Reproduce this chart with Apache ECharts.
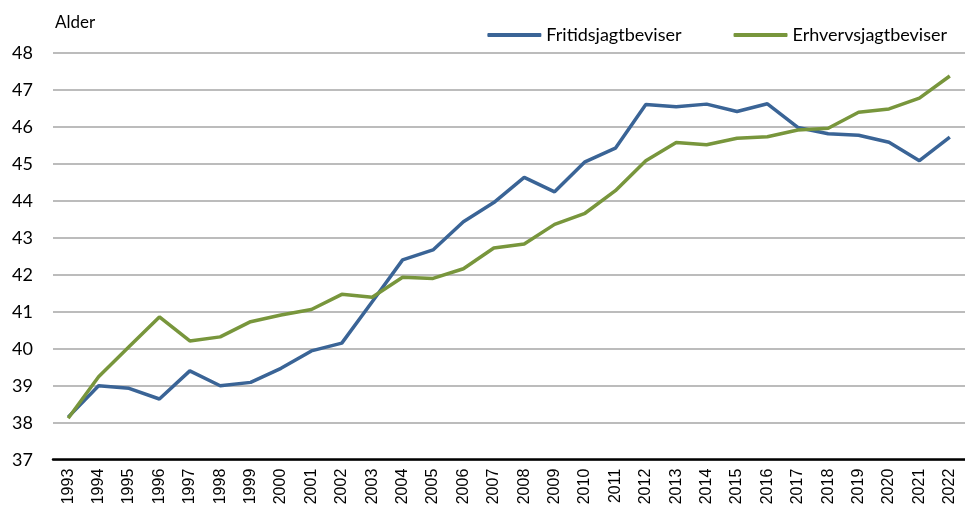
<!DOCTYPE html>
<html>
<head>
<meta charset="utf-8">
<script src="https://cdn.jsdelivr.net/npm/echarts@6/dist/echarts.min.js"></script>
<style>
  html, body { margin: 0; padding: 0; background: #fff; }
  #chart { width: 965px; height: 518px; }
</style>
</head>
<body>
<div id="chart"></div>
<script>
var years = ['1993','1994','1995','1996','1997','1998','1999','2000','2001','2002',
  '2003','2004','2005','2006','2007','2008','2009','2010','2011','2012',
  '2013','2014','2015','2016','2017','2018','2019','2020','2021','2022'];

var fritid = [38.15, 39.0, 38.93, 38.64, 39.4, 39.0, 39.09, 39.47, 39.94, 40.15,
  41.27, 42.4, 42.67, 43.43, 43.95, 44.63, 44.24, 45.05, 45.42, 46.6,
  46.54, 46.61, 46.41, 46.62, 45.98, 45.81, 45.77, 45.58, 45.08, 45.72];

var erhverv = [38.12, 39.24, 40.05, 40.86, 40.21, 40.32, 40.73, 40.91, 41.06, 41.47,
  41.39, 41.93, 41.9, 42.16, 42.72, 42.83, 43.36, 43.66, 44.27, 45.08,
  45.57, 45.51, 45.69, 45.73, 45.91, 45.96, 46.39, 46.48, 46.77, 47.37];

var seriesNames = ['Fritidsjagtbeviser', 'Erhvervsjagtbeviser'];

var chart = echarts.init(document.getElementById('chart'));

var option = {
  animation: false,
  backgroundColor: '#fff',
  grid: { left: 53, right: -5, top: 52.7, bottom: 58.3 },
  legend: {
    data: seriesNames,
    right: 13,
    top: 21,
    itemWidth: 54,
    itemHeight: 4,
    itemGap: 52,
    icon: 'roundRect',
    textStyle: { fontFamily: 'Lato', fontSize: 18, color: '#000' }
  },
  xAxis: {
    type: 'category',
    data: years,
    boundaryGap: true,
    axisLine: { lineStyle: { color: '#000', width: 2.5 } },
    axisTick: { show: false },
    axisLabel: {
      rotate: 90,
      margin: 9,
      interval: 0,
      fontFamily: 'Liberation Sans',
      fontSize: 16,
      color: '#000'
    }
  },
  yAxis: {
    type: 'value',
    min: 37,
    max: 48,
    interval: 1,
    name: 'Alder',
    nameLocation: 'end',
    nameGap: 22,
    nameTextStyle: { align: 'left', fontFamily: 'Lato', fontSize: 17, color: '#000', padding: [0, 0, 0, 2] },
    axisLine: { show: false },
    axisTick: { show: false },
    axisLabel: { margin: 20, fontFamily: 'Lato', fontSize: 18, color: '#000' },
    splitLine: { lineStyle: { color: '#a6a6a6', width: 1.5 } }
  },
  series: [
    {
      name: seriesNames[0],
      type: 'line',
      data: fritid,
      symbol: 'none',
      color: '#3a6496',
      lineStyle: { width: 3.5, color: '#3a6496' }
    },
    {
      name: seriesNames[1],
      type: 'line',
      data: erhverv,
      symbol: 'none',
      color: '#78963c',
      lineStyle: { width: 3.5, color: '#78963c' }
    }
  ]
};

chart.setOption(option);
</script>
</body>
</html>
